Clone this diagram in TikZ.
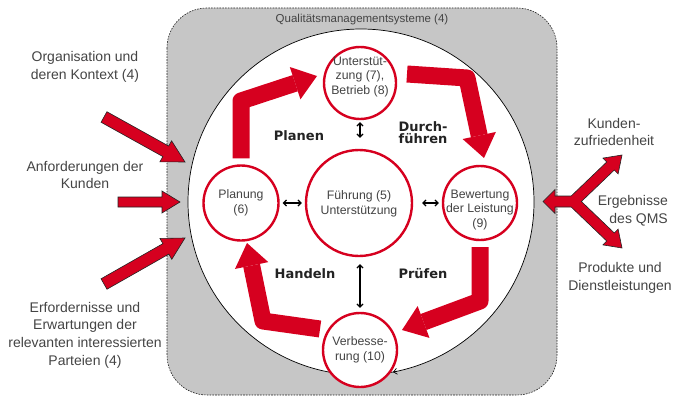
\documentclass[tikz,border=0pt]{standalone}
\usepackage{fontspec}
\setmainfont{Liberation Sans}
\newfontfamily\heavyfont{DejaVu Sans}
\usetikzlibrary{arrows.meta,calc}
\definecolor{qred}{RGB}{214,0,31}
\definecolor{qgray}{RGB}{198,198,198}
\definecolor{qtext}{RGB}{68,68,68}
\definecolor{qdark}{RGB}{35,35,35}
\newcommand\inarrow[5]{%
  \coordinate (iah) at ($(#2)!#5!(#1)$);
  \draw[inarrowstyle] ($(#1)!#3!90:(#2)$) -- ($(iah)!#3!90:(#2)$) -- ($(iah)!#4!90:(#2)$) -- (#2)
    -- ($(iah)!#4!-90:(#2)$) -- ($(iah)!#3!-90:(#2)$) -- ($(#1)!#3!-90:(#2)$) -- cycle;}
\begin{document}
\begin{tikzpicture}[x=1pt,y=-1pt,
  frame/.style={fill=qgray, draw=qdark, line width=0.6pt, dash pattern=on 1.6pt off 1.2pt, rounded corners=40pt},
  bigcircle/.style={circle, fill=white, draw=black, line width=0.7pt, minimum size=346pt, inner sep=0pt},
  pcircle/.style={circle, fill=white, draw=qred, line width=2.4pt, inner sep=0pt},
  ctext/.style={align=center, text=qtext, font=\fontsize{12.3}{14.5}\selectfont, inner sep=0pt},
  otext/.style={align=center, text=qtext, font=\fontsize{14}{17.7}\selectfont, inner sep=0pt},
  phase/.style={align=center, text=qdark, font=\heavyfont\bfseries\fontsize{13}{12}\selectfont, inner sep=0pt},
  cyc/.style={draw=qred, line width=17pt, line join=round, -{Triangle[length=23pt,width=34pt,line width=0pt]}},
  dbl/.style={draw=black, line width=1.2pt, {Straight Barb[length=3pt,width=6pt]}-{Straight Barb[length=3pt,width=6pt]}},
  inarrowstyle/.style={fill=qred, draw=qdark, line width=0.6pt, line join=miter},
]
\useasboundingbox (0,0) rectangle (674,396);
\path[frame] (167,8) rectangle (557,395);
\node[bigcircle] (qms) at (361,202) {};
\coordinate (qa1) at (397,371.3);
\coordinate (qa2) at (393,372.1);
\draw[black, line width=0.7pt, -{Straight Barb[length=3.5pt,width=6pt]}] (qa1) -- (qa2);
\node[ctext, font=\fontsize{11.5}{14}\selectfont] (title) at (362,20) {Qualitätsmanagementsysteme (4)};

% cycle arrows
\coordinate (a1b) at (241,101);
\coordinate (a1e) at (317,76);
\coordinate (a2s) at (407,74);
\coordinate (a2b) at (467,78);
\coordinate (a2e) at (484,158);
\coordinate (a3b) at (480,301);
\coordinate (a3e) at (402,330);
\coordinate (a4s) at (320,329);
\coordinate (a4b) at (263,321);
\coordinate (a4e) at (247,243);

% circles
\node[pcircle, minimum size=72pt] (unt) at (360,83) {};
\node[pcircle, minimum size=75pt] (plan) at (241,203) {};
\node[pcircle, minimum size=106pt] (fuehr) at (359,203) {};
\node[pcircle, minimum size=74pt] (bew) at (480,203) {};
\node[pcircle, minimum size=74pt] (verb) at (360,350) {};

\draw[cyc] ([yshift=6pt]plan.north) -- (a1b) -- (a1e);
\draw[cyc] (a2s) -- (a2b) -- (a2e);
\draw[cyc] ([yshift=-6pt]bew.south) -- (a3b) -- (a3e);
\draw[cyc] (a4s) -- (a4b) -- (a4e);

\node[ctext] (untT) at (360,77) {Unterstüt-\\zung (7),\\Betrieb (8)};
\node[ctext] (planT) at (241,203) {Planung\\(6)};
\node[ctext] (fuehrT) at (359,204) {Führung (5)\\Unterstützung};
\node[ctext] (bewT) at (480,210) {Bewertung\\der Leistung\\(9)};
\node[ctext] (verbT) at (360,350) {Verbesse-\\rung (10)};

% double arrows
\draw[dbl, shorten <=3pt, shorten >=3pt] (plan.east) -- (fuehr.west);
\draw[dbl, shorten <=9pt, shorten >=3pt] (fuehr.east) -- (bew.west);
\draw[dbl, shorten <=2pt, shorten >=11pt] (unt.south) -- (unt.south |- fuehr.north);
\draw[dbl, shorten <=7pt, shorten >=4pt] (verb.north |- fuehr.south) -- (verb.north);

% phase labels
\node[phase] (planen) at (299,136) {Planen};
\node[phase] (durch) at (423,133) {Durch-\\führen};
\node[phase] (handeln) at (305,274) {Handeln};
\node[phase] (pruefen) at (423,274) {Prüfen};

% input arrows
\coordinate (i1s) at (104,117);
\coordinate (i1e) at (185,162);
\coordinate (i2s) at (118,202);
\coordinate (i2e) at (180,202);
\coordinate (i3s) at (104,284);
\coordinate (i3e) at (185,238);
\inarrow{i1s}{i1e}{6pt}{12pt}{22pt}
\inarrow{i2s}{i2e}{5pt}{11pt}{18pt}
\inarrow{i3s}{i3e}{6pt}{12pt}{22pt}

% output arrows
\draw[inarrowstyle] (543,201.5) -- (555,189.5) -- (555,196) -- (571.2,196) -- (606.7,162) -- (602.9,158.1)
  -- (622,155) -- (618.1,173.9) -- (614.3,170) -- (581.4,201.5) -- (614.3,233) -- (618.1,229.1)
  -- (622,248) -- (602.9,244.9) -- (606.7,241) -- (571.2,207) -- (555,207) -- (555,213.5) -- cycle;

% labels
\node[otext] (org) at (85,67) {Organisation und\\deren Kontext (4)};
\node[otext] (anf) at (85,175) {Anforderungen der\\Kunden};
\node[otext] (erf) at (85,335) {Erfordernisse und\\Erwartungen der\\relevanten interessierten\\Parteien (4)};
\node[otext] (kz) at (614,132) {Kunden-\\zufriedenheit};
\node[otext, align=right, anchor=east] (erg) at (668,211) {Ergebnisse\\des QMS};
\node[otext] (prod) at (620,278) {Produkte und\\Dienstleistungen};
\end{tikzpicture}
\end{document}
